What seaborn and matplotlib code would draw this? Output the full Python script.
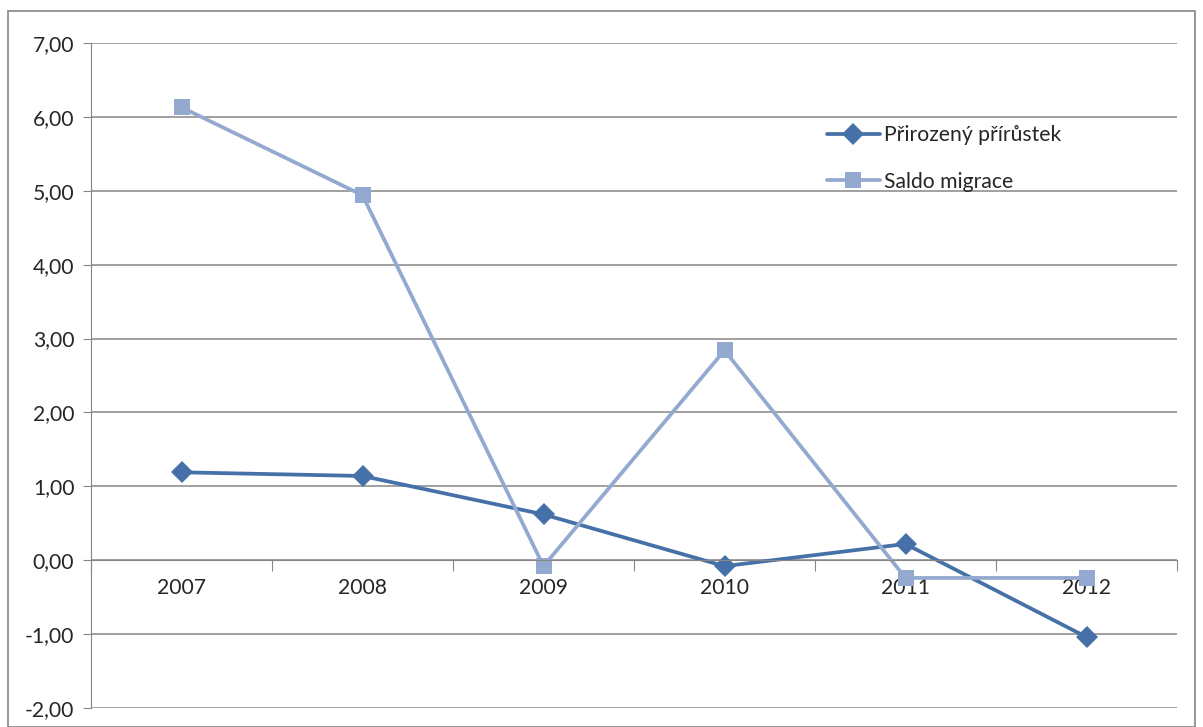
import pandas as pd
import numpy as np
import matplotlib.pyplot as plt
import seaborn as sns
from matplotlib.patches import Rectangle
from matplotlib.ticker import FixedLocator, FuncFormatter

#data
years = ['2007', '2008', '2009', '2010', '2011', '2012']
prirozeny = [1.19, 1.14, 0.62, -0.08, 0.22, -1.04]
saldo = [6.13, 4.94, -0.08, 2.84, -0.24, -0.24]
series_names = ['Přirozený přírůstek', 'Saldo migrace']
y_ticks = [-2, -1, 0, 1, 2, 3, 4, 5, 6, 7]

df = pd.DataFrame({
    'rok': years * 2,
    'hodnota': prirozeny + saldo,
    'serie': [series_names[0]] * len(years) + [series_names[1]] * len(years),
})

sns.set_style('white')
plt.rcParams['font.family'] = ['Lato', 'DejaVu Sans']

grid_col = '#868686'
colors = {series_names[0]: '#4571A8', series_names[1]: '#93A9D0'}
fsize = 15.2

fig = plt.figure(figsize=(12.03, 7.27), dpi=100)
ax = fig.add_axes([91 / 1203, 1 - 708 / 727, (1177 - 91) / 1203, (708 - 43) / 727])

sns.lineplot(data=df, x='rok', y='hodnota', hue='serie', style='serie',
             palette=colors, markers={series_names[0]: 'D', series_names[1]: 's'},
             dashes=False, linewidth=2.7, markersize=11, markeredgewidth=0,
             sort=False, ax=ax)

ax.set_xlim(-0.5, len(years) - 0.5)
ax.set_ylim(-2, 7)
ax.set_xlabel('')
ax.set_ylabel('')

#horizontal gridlines
ax.yaxis.set_major_locator(FixedLocator(y_ticks))
ax.yaxis.set_major_formatter(FuncFormatter(lambda v, p: f'{v:.2f}'.replace('.', ',')))
ax.grid(axis='y', color=grid_col, linewidth=1.1)
ax.set_axisbelow(True)

#category axis sits at zero
ax.spines['bottom'].set_position(('data', 0))
ax.spines['bottom'].set_color(grid_col)
ax.spines['left'].set_color(grid_col)
ax.spines['top'].set_visible(False)
ax.spines['right'].set_visible(False)
ax.set_xticks(np.arange(-0.5, len(years)), minor=False)
ax.set_xticklabels([])
ax.set_xticks(np.arange(len(years)), minor=True)
ax.set_xticklabels(years, minor=True)
ax.tick_params(axis='x', which='major', direction='out', length=8, color=grid_col, bottom=True)
ax.tick_params(axis='x', which='minor', length=0, pad=13, labelsize=fsize, bottom=True)
ax.tick_params(axis='y', direction='out', length=6, color=grid_col, left=True,
               labelsize=fsize, pad=6)

leg = ax.legend(loc='upper left', bbox_to_anchor=(0.66, 0.905), frameon=False,
                fontsize=fsize, labelspacing=1.25, handlelength=2.5, handletextpad=0.2)
for line in leg.get_lines():
    line.set_linewidth(2.7)

#outer chart frame
fig.patches.append(Rectangle((8 / 1203, 0), 1187 / 1203, 1 - 11 / 727,
                             transform=fig.transFigure, fill=False,
                             edgecolor=grid_col, linewidth=1.2))

fig.savefig('out.png', dpi=100)
